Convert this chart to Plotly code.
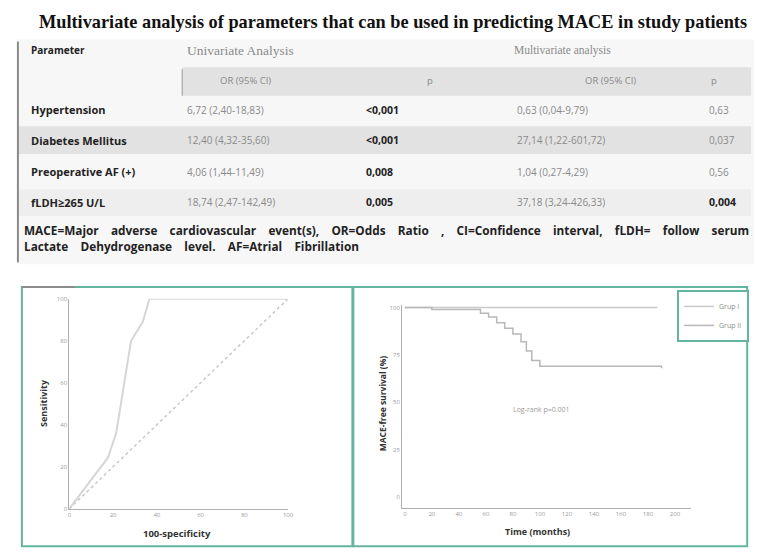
import plotly.graph_objects as go

W, H = 763, 553

# ---------------- data ----------------
parameters = ["Hypertension", "Diabetes Mellitus", "Preoperative AF (+)", "fLDH≥265 U/L"]
uni_or = ["6,72 (2,40-18,83)", "12,40 (4,32-35,60)", "4,06 (1,44-11,49)", "18,74 (2,47-142,49)"]
uni_p = ["<0,001", "<0,001", "0,008", "0,005"]
multi_or = ["0,63 (0,04-9,79)", "27,14 (1,22-601,72)", "1,04 (0,27-4,29)", "37,18 (3,24-426,33)"]
multi_p = ["0,63", "0,037", "0,56", "0,004"]
multi_p_bold = [False, False, False, True]

roc_fpr = [0, 17.6, 21.4, 28.2, 33.6, 36.6, 100]
roc_tpr = [0, 24.3, 36, 80, 89, 100, 100]
diag = [0, 100]

grp1_t = [0, 187]
grp1_s = [100, 100]
grp2_t = [0, 20, 52, 56, 62, 68, 74, 80, 86, 90, 94, 100, 190]
grp2_s = [100, 99, 99, 97, 95, 92, 89, 86, 82, 77, 72, 69, 68]

roc_ticks = [0, 20, 40, 60, 80, 100]
km_xticks = list(range(0, 201, 20))
km_yticks = [0, 25, 50, 75, 100]

footnote_1 = "MACE=Major adverse cardiovascular event(s), OR=Odds Ratio , CI=Confidence interval, fLDH= follow serum"
footnote_2 = "Lactate Dehydrogenase level. AF=Atrial Fibrillation"

# ---------------- helpers ----------------
OX, OY = 8, 8  # page body margin compensation

def px(x):
    return (x - OX) / W

def py(y):
    return 1 - (y - OY) / H

TEAL = "#64b4a2"
SANS = "Open Sans, Noto Sans, sans-serif"
SERIF = "Liberation Serif, Times New Roman, serif"

fig = go.Figure()

# ROC
fig.add_trace(go.Scatter(x=diag, y=diag, mode="lines", xaxis="x", yaxis="y",
                         line=dict(color="#c8c8c8", width=1.5, dash="dot"), showlegend=False))
fig.add_trace(go.Scatter(x=roc_fpr, y=roc_tpr, mode="lines", xaxis="x", yaxis="y",
                         line=dict(color="#d6d6d6", width=2), showlegend=False))

# KM
fig.add_trace(go.Scatter(x=grp1_t, y=grp1_s, mode="lines", xaxis="x2", yaxis="y2",
                         line=dict(color="#c8c8c8", width=1.5, shape="hv"), name="Grup I"))
fig.add_trace(go.Scatter(x=grp2_t, y=grp2_s, mode="lines", xaxis="x2", yaxis="y2",
                         line=dict(color="#b8b8b8", width=1.5, shape="hv"), name="Grup II"))

tickfont = dict(family=SANS, size=6, color="#9a9a9a")

fig.update_layout(
    width=W, height=H,
    margin=dict(l=0, r=0, t=0, b=0),
    paper_bgcolor="white", plot_bgcolor="rgba(0,0,0,0)",
    xaxis=dict(domain=[px(68), px(289)], range=[0, 100], anchor="y",
               tickvals=roc_ticks, ticktext=[str(v) for v in roc_ticks],
               showgrid=False, zeroline=False, showline=True, linecolor="#b0b0b0", linewidth=1,
               ticks="", tickfont=tickfont),
    yaxis=dict(domain=[py(512), py(299)], range=[0, 100], anchor="x",
               tickvals=roc_ticks, ticktext=[str(v) for v in roc_ticks],
               showgrid=False, zeroline=False, showline=True, linecolor="#b0b0b0", linewidth=1,
               ticks="", tickfont=tickfont),
    xaxis2=dict(domain=[px(404.3), px(696.4)], range=[-2, 212], anchor="y2",
                tickvals=km_xticks, ticktext=[str(v) for v in km_xticks],
                showgrid=False, zeroline=False, showline=True, linecolor="#b0b0b0", linewidth=1,
                ticks="", tickfont=tickfont),
    yaxis2=dict(domain=[py(511), py(305)], range=[-5.7, 101.5], anchor="x2",
                tickvals=km_yticks, ticktext=[str(v) for v in km_yticks],
                showgrid=False, zeroline=False, showline=True, linecolor="#b0b0b0", linewidth=1,
                ticks="", tickfont=tickfont),
    legend=dict(x=px(682), y=py(290), xanchor="left", yanchor="top",
                bordercolor=TEAL, borderwidth=2, bgcolor="white",
                font=dict(family=SANS, size=7, color="#8a8a8a"), itemwidth=30,
                tracegroupgap=0),
)

shapes = []
# table background
shapes.append(dict(type="rect", xref="paper", yref="paper", x0=px(15), x1=px(760), y0=py(264), y1=py(36),
                   fillcolor="#f7f7f7", line=dict(width=0), layer="below"))
# header band
shapes.append(dict(type="rect", xref="paper", yref="paper", x0=px(182), x1=px(757), y0=py(93), y1=py(64),
                   fillcolor="#e2e2e2", line=dict(width=0), layer="below"))
shapes.append(dict(type="line", xref="paper", yref="paper", x0=px(182), x1=px(182), y0=py(93), y1=py(66),
                   line=dict(color="#9a9a9a", width=1)))
# diabetes band
shapes.append(dict(type="rect", xref="paper", yref="paper", x0=px(17), x1=px(757), y0=py(152), y1=py(124),
                   fillcolor="#e2e2e2", line=dict(width=0), layer="below"))
# fLDH band
shapes.append(dict(type="rect", xref="paper", yref="paper", x0=px(17), x1=px(757), y0=py(215), y1=py(188),
                   fillcolor="#eeeeee", line=dict(width=0), layer="below"))
# left rule
shapes.append(dict(type="line", xref="paper", yref="paper", x0=px(16), x1=px(16), y0=py(262), y1=py(38),
                   line=dict(color="#8a8a8a", width=2)))
# panel borders
shapes.append(dict(type="rect", xref="paper", yref="paper", x0=px(20), x1=px(354), y0=py(550), y1=py(287),
                   line=dict(color=TEAL, width=2)))
shapes.append(dict(type="rect", xref="paper", yref="paper", x0=px(355), x1=px(753), y0=py(550), y1=py(287),
                   line=dict(color=TEAL, width=2)))
shapes.append(dict(type="line", xref="paper", yref="paper", x0=px(20), x1=px(74), y0=py(287), y1=py(287),
                   line=dict(color="#8c8c8c", width=2)))

ann = []
def txt(x, y, s, size=10, color="#222", family=SANS, bold=False, xanchor="left", textangle=0):
    if bold:
        s = "<b>" + s + "</b>"
    ann.append(dict(x=px(x), y=py(y), xref="paper", yref="paper", text=s, showarrow=False,
                    xanchor=xanchor, yanchor="middle", textangle=textangle,
                    font=dict(family=family, size=size, color=color)))

def spread(s, n):
    return (" " + "\u00a0" * n).join(s.split(" "))

# title
txt(395, 18, "Multivariate analysis of parameters that can be used in predicting MACE in study patients",
    size=18.3, color="#111", family=SERIF, bold=True, xanchor="center")

# table headers
txt(27, 47, "Parameter", size=10, color="#222", bold=True)
txt(185, 47, "Univariate Analysis", size=13.5, color="#8a8a8a", family=SERIF)
txt(515, 47, "Multivariate analysis", size=11.5, color="#8a8a8a", family=SERIF)
txt(246, 78, "OR (95% CI)", size=9.5, color="#8a8a8a", xanchor="center")
txt(432, 78, "p", size=9.5, color="#8a8a8a", xanchor="center")
txt(615, 78, "OR (95% CI)", size=9.5, color="#8a8a8a", xanchor="center")
txt(719, 78, "p", size=9.5, color="#8a8a8a", xanchor="center")

row_y = [107, 138, 170, 201]
for i, yy in enumerate(row_y):
    txt(27, yy, parameters[i], size=11, color="#222", bold=True)
    txt(185, yy, uni_or[i], size=10, color="#8a8a8a")
    txt(366, yy, uni_p[i], size=10.5, color="#222", bold=True)
    txt(518, yy, multi_or[i], size=10, color="#8a8a8a")
    if multi_p_bold[i]:
        txt(712, yy, multi_p[i], size=10.5, color="#222", bold=True)
    else:
        txt(712, yy, multi_p[i], size=10, color="#8a8a8a")

txt(20, 229, spread(footnote_1, 3), size=11.8, color="#222", bold=True)
txt(20, 245, spread(footnote_2, 3), size=11.8, color="#222", bold=True)

# axis titles
txt(42, 405, "Sensitivity", size=9, color="#333", bold=True, xanchor="center", textangle=-90)
txt(177, 537, "100-specificity", size=9.5, color="#333", bold=True, xanchor="center")
txt(384, 405, "MACE-free survival (%)", size=8.5, color="#333", bold=True, xanchor="center", textangle=-90)
txt(541, 535, "Time (months)", size=9, color="#333", bold=True, xanchor="center")
txt(545, 411, "Log-rank p=0.001", size=7, color="#9a9a9a", xanchor="center")

fig.update_layout(shapes=shapes, annotations=ann)
fig.write_html("out.html")
